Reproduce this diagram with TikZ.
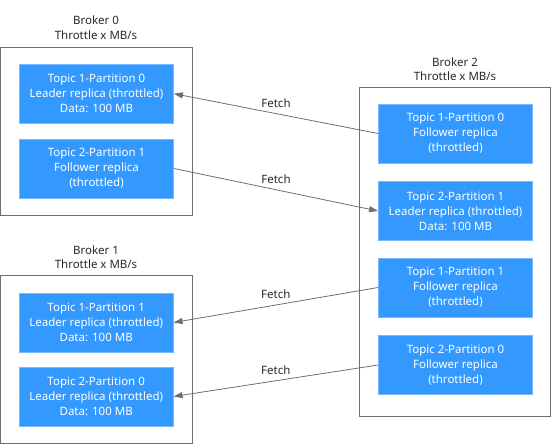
\documentclass[tikz,border=0pt]{standalone}
\usepackage{fontspec}
\setmainfont{Noto Sans}
\usetikzlibrary{arrows.meta}

\definecolor{partblue}{RGB}{51,153,255}
\definecolor{partedge}{RGB}{120,185,255}
\definecolor{linegray}{RGB}{110,110,110}
\definecolor{textgray}{RGB}{40,40,40}

\begin{document}
\begin{tikzpicture}[x=1pt, y=-1pt]

%-------------------------------------------------
% Styles
%-------------------------------------------------
\tikzset{
  broker/.style={draw=linegray, line width=0.9pt, minimum width=191.5pt, inner sep=0pt},
  title/.style={text=textgray, align=center, font=\fontsize{11.5}{14.5}\selectfont},
  part/.style={draw=partedge, fill=partblue, text=white, line width=0.8pt,
    minimum width=154pt, minimum height=59pt, inner sep=0pt, align=center,
    font=\fontsize{11.5}{15}\selectfont},
  fetch/.style={draw=linegray, line width=0.8pt, -{Triangle[length=9pt, width=6pt]}},
  fetchlabel/.style={above, text=textgray, inner sep=5.5pt, font=\fontsize{11.5}{14}\selectfont}
}

\useasboundingbox (0,0) rectangle (552,444);

%-------------------------------------------------
% LEFT: Broker 0
%-------------------------------------------------
\node[title] (t0) at (96,27.5) {Broker 0\\Throttle x MB/s};
\node[broker, minimum height=168pt] (b0) at (96.25,131) {};

\node[part] (p10) at (96.5,93.7) {Topic 1-Partition 0\\Leader replica (throttled)\\Data: 100 MB};
\node[part] (p21) at (96.5,168.5) {Topic 2-Partition 1\\Follower replica\\(throttled)};

%-------------------------------------------------
% LEFT: Broker 1
%-------------------------------------------------
\node[title] (t1) at (96,257) {Broker 1\\Throttle x MB/s};
\node[broker, minimum height=167.3pt] (b1) at (96.25,359.4) {};

\node[part] (p11) at (96.2,322.5) {Topic 1-Partition 1\\Leader replica (throttled)\\Data: 100 MB};
\node[part] (p20) at (96.2,396.5) {Topic 2-Partition 0\\Leader replica (throttled)\\Data: 100 MB};

%-------------------------------------------------
% RIGHT: Broker 2
%-------------------------------------------------
\node[title] (t2) at (455,69) {Broker 2\\Throttle x MB/s};
\node[broker, minimum height=328.7pt] (b2) at (455,251.7) {};

\node[part] (f10) at (455.5,133.5) {Topic 1-Partition 0\\Follower replica\\(throttled)};
\node[part] (l21) at (455.5,211) {Topic 2-Partition 1\\Leader replica (throttled)\\Data: 100 MB};
\node[part] (f11) at (455.5,287.5) {Topic 1-Partition 1\\Follower replica\\(throttled)};
\node[part] (f20) at (455.5,365) {Topic 2-Partition 0\\Follower replica\\(throttled)};

%-------------------------------------------------
% Fetch connectors
%-------------------------------------------------
\draw[fetch] (f10.west) -- node[fetchlabel] {Fetch} (p10.east);
\draw[fetch] (p21.east) -- node[fetchlabel] {Fetch} (l21.west);
\draw[fetch] (f11.west) -- node[fetchlabel] {Fetch} (p11.east);
\draw[fetch] (f20.west) -- node[fetchlabel] {Fetch} (p20.east);

\end{tikzpicture}
\end{document}
